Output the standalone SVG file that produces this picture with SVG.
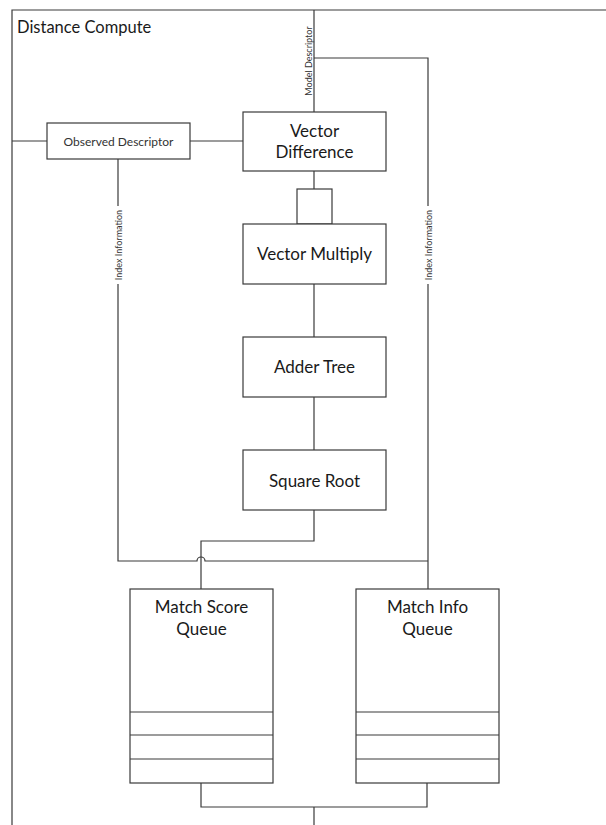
<svg xmlns="http://www.w3.org/2000/svg" width="606" height="825" viewBox="0 0 606 825">
<style>
.box{fill:#fff;stroke:#3a3a3a;stroke-width:1.2}
.ln{fill:none;stroke:#3a3a3a;stroke-width:1.2}
.t{font-family:Lato,"Liberation Sans",sans-serif;font-size:17px;fill:#1a1a1a;text-anchor:middle}
.s{font-family:Lato,"Liberation Sans",sans-serif;font-size:12px;fill:#333;text-anchor:middle}
.r{font-family:Lato,"Liberation Sans",sans-serif;font-size:9px;fill:#333;text-anchor:middle}
</style>
<rect width="606" height="825" fill="#fff"/>
<g id="frame">
<path class="ln" d="M12 825 V10 H606"/>
<text x="17" y="33" style="font-family:Lato,'Liberation Sans',sans-serif;font-size:16.5px;fill:#1a1a1a">Distance Compute</text>
</g>
<g id="connectors">
<path class="ln" d="M12 141 H47"/>
<path class="ln" d="M190 141 H243"/>
<path class="ln" d="M314 10 V112"/>
<path class="ln" d="M314 58 H428 V206"/>
<path class="ln" d="M428 284 V589"/>
<path class="ln" d="M118 159 V206"/>
<path class="ln" d="M118 284 V561 H197 A4 4 0 0 1 205 561 H428"/>
<path class="ln" d="M314 171 V189"/>
<path class="ln" d="M314 284 V337"/>
<path class="ln" d="M314 397 V450"/>
<path class="ln" d="M314 510 V541 H201 V589"/>
<path class="ln" d="M201 783 V807 H427 V783"/>
<path class="ln" d="M314 807 V825"/>
<text class="r" transform="translate(311.5 61) rotate(-90)">Model Descriptor</text>
<text class="r" transform="translate(121.5 245) rotate(-90)">Index Information</text>
<text class="r" transform="translate(431.5 245) rotate(-90)">Index Information</text>
</g>
<g id="observed-descriptor">
<rect class="box" x="47" y="123" width="143" height="36"/>
<text class="s" x="118.5" y="145.5">Observed Descriptor</text>
</g>
<g id="vector-difference">
<rect class="box" x="243" y="112" width="143" height="59"/>
<text class="t" x="314.5" y="137">Vector</text>
<text class="t" x="314.5" y="158">Difference</text>
</g>
<g id="small-block">
<rect class="box" x="297" y="189" width="35" height="35"/>
</g>
<g id="vector-multiply">
<rect class="box" x="243" y="224" width="143" height="60"/>
<text class="t" x="314.5" y="260">Vector Multiply</text>
</g>
<g id="adder-tree">
<rect class="box" x="243" y="337" width="143" height="60"/>
<text class="t" x="314.5" y="373">Adder Tree</text>
</g>
<g id="square-root">
<rect class="box" x="243" y="450" width="143" height="60"/>
<text class="t" x="314.5" y="487">Square Root</text>
</g>
<g id="match-score-queue">
<rect class="box" x="130" y="589" width="143" height="194"/>
<path class="ln" d="M130 712 H273 M130 735 H273 M130 759 H273"/>
<text class="t" x="201.5" y="613">Match Score</text>
<text class="t" x="201.5" y="635">Queue</text>
</g>
<g id="match-info-queue">
<rect class="box" x="356" y="589" width="143" height="194"/>
<path class="ln" d="M356 712 H499 M356 735 H499 M356 759 H499"/>
<text class="t" x="427.5" y="613">Match Info</text>
<text class="t" x="427.5" y="635">Queue</text>
</g>
</svg>
